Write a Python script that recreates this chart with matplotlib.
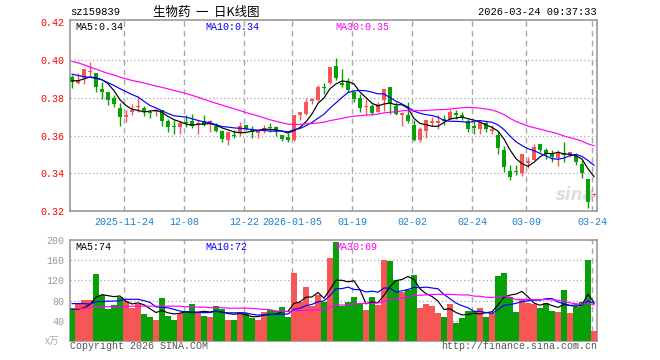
import numpy as np
import pandas as pd
import matplotlib
matplotlib.use('Agg')
import matplotlib.pyplot as plt

# daily candles, 2025-11-11 .. 2026-03-24 (index 0..87)
opens = [0.3910, 0.3878, 0.3903, 0.3935, 0.3931, 0.3846, 0.3828, 0.3800, 0.3747, 0.3699,
         0.3722, 0.3749, 0.3747, 0.3726, 0.3726, 0.3735, 0.3676, 0.3650, 0.3646, 0.3673,
         0.3676, 0.3660, 0.3676, 0.3664, 0.3651, 0.3623, 0.3575, 0.3605, 0.3614, 0.3655,
         0.3628, 0.3611, 0.3628, 0.3646, 0.3646, 0.3605, 0.3593, 0.3575, 0.3708, 0.3712,
         0.3782, 0.3788, 0.3858, 0.3876, 0.3968, 0.3876, 0.3885, 0.3832, 0.3800, 0.3749,
         0.3756, 0.3726, 0.3788, 0.3857, 0.3758, 0.3708, 0.3708, 0.3655, 0.3575, 0.3623,
         0.3667, 0.3667, 0.3687, 0.3687, 0.3717, 0.3708, 0.3676, 0.3650, 0.3634, 0.3664,
         0.3625, 0.3602, 0.3522, 0.3411, 0.3412, 0.3399, 0.3456, 0.3470, 0.3553, 0.3523,
         0.3500, 0.3482, 0.3505, 0.3496, 0.3493, 0.3449, 0.3368, 0.3283]
highs = [0.3920, 0.3929, 0.3952, 0.3991, 0.3931, 0.3881, 0.3828, 0.3814, 0.3770, 0.3735,
         0.3765, 0.3811, 0.3758, 0.3735, 0.3743, 0.3735, 0.3690, 0.3681, 0.3676, 0.3708,
         0.3712, 0.3681, 0.3708, 0.3681, 0.3664, 0.3628, 0.3616, 0.3628, 0.3673, 0.3655,
         0.3651, 0.3637, 0.3655, 0.3664, 0.3651, 0.3605, 0.3614, 0.3708, 0.3722, 0.3800,
         0.3800, 0.3867, 0.3876, 0.3965, 0.4009, 0.3952, 0.3903, 0.3835, 0.3818, 0.3796,
         0.3765, 0.3779, 0.3846, 0.3857, 0.3779, 0.3726, 0.3779, 0.3681, 0.3646, 0.3680,
         0.3699, 0.3708, 0.3708, 0.3743, 0.3735, 0.3722, 0.3690, 0.3676, 0.3681, 0.3676,
         0.3655, 0.3623, 0.3545, 0.3442, 0.3444, 0.3500, 0.3487, 0.3553, 0.3553, 0.3535,
         0.3523, 0.3523, 0.3564, 0.3514, 0.3505, 0.3470, 0.3368, 0.3296]
lows = [0.3853, 0.3871, 0.3871, 0.3917, 0.3832, 0.3796, 0.3761, 0.3752, 0.3651, 0.3673,
        0.3708, 0.3722, 0.3703, 0.3694, 0.3704, 0.3651, 0.3620, 0.3607, 0.3607, 0.3646,
        0.3641, 0.3607, 0.3651, 0.3616, 0.3616, 0.3563, 0.3549, 0.3588, 0.3598, 0.3628,
        0.3588, 0.3588, 0.3611, 0.3616, 0.3598, 0.3570, 0.3566, 0.3570, 0.3681, 0.3708,
        0.3765, 0.3782, 0.3818, 0.3871, 0.3894, 0.3858, 0.3832, 0.3775, 0.3722, 0.3708,
        0.3708, 0.3726, 0.3731, 0.3712, 0.3708, 0.3651, 0.3664, 0.3570, 0.3568, 0.3588,
        0.3651, 0.3634, 0.3655, 0.3687, 0.3690, 0.3681, 0.3620, 0.3607, 0.3607, 0.3620,
        0.3607, 0.3504, 0.3404, 0.3363, 0.3391, 0.3387, 0.3426, 0.3470, 0.3514, 0.3475,
        0.3458, 0.3440, 0.3461, 0.3487, 0.3443, 0.3373, 0.3214, 0.3280]
closes = [0.3885, 0.3892, 0.3952, 0.3943, 0.3858, 0.3832, 0.3788, 0.3768, 0.3699, 0.3708,
          0.3733, 0.3756, 0.3729, 0.3720, 0.3731, 0.3678, 0.3646, 0.3644, 0.3667, 0.3667,
          0.3650, 0.3667, 0.3655, 0.3676, 0.3625, 0.3579, 0.3616, 0.3600, 0.3651, 0.3634,
          0.3616, 0.3628, 0.3642, 0.3641, 0.3623, 0.3584, 0.3575, 0.3708, 0.3722, 0.3775,
          0.3791, 0.3855, 0.3853, 0.3965, 0.3903, 0.3867, 0.3841, 0.3791, 0.3747, 0.3758,
          0.3717, 0.3768, 0.3846, 0.3770, 0.3713, 0.3717, 0.3678, 0.3575, 0.3637, 0.3680,
          0.3676, 0.3676, 0.3678, 0.3726, 0.3708, 0.3699, 0.3634, 0.3641, 0.3673, 0.3634,
          0.3634, 0.3534, 0.3434, 0.3381, 0.3405, 0.3500, 0.3465, 0.3541, 0.3523, 0.3500,
          0.3488, 0.3505, 0.3496, 0.3514, 0.3461, 0.3399, 0.3249, 0.3290]
# volume, x10k
volumes = [65, 73, 81, 81, 133, 91, 63, 71, 88, 79,
           66, 73, 53, 48, 42, 86, 50, 42, 55, 59,
           73, 57, 50, 48, 69, 63, 42, 42, 57, 55,
           45, 42, 57, 62, 60, 68, 47, 135, 78, 106,
           70, 92, 77, 165, 197, 70, 77, 88, 73, 61,
           87, 71, 161, 158, 121, 98, 101, 131, 66, 73,
           70, 55, 48, 73, 36, 46, 60, 60, 66, 48,
           55, 129, 135, 88, 58, 81, 76, 73, 66, 76,
           60, 58, 101, 56, 68, 77, 161, 20]

# moving-average values before a full window is available
ma5_head = [0.3890, 0.3890, 0.3900, 0.3910]
ma10_head = [0.3925, 0.3918, 0.3912, 0.3908, 0.3903, 0.3895, 0.3880, 0.3865, 0.3848]
ma30_head = [0.3993, 0.3985, 0.3975, 0.3962, 0.3952, 0.3940, 0.3929, 0.3920, 0.3910, 0.3900,
             0.3892, 0.3885, 0.3878, 0.3870, 0.3862, 0.3855, 0.3847, 0.3839, 0.3831, 0.3823,
             0.3813, 0.3803, 0.3792, 0.3781, 0.3771, 0.3761, 0.3751, 0.3742, 0.3732]
vma5_head = [63, 63, 66, 72]
vma10_head = [74, 74, 74, 73, 78, 78, 79, 79, 80]
vma30_head = [64, 64, 65, 66, 68, 68, 68, 68, 68, 68,
              69, 69, 69, 69, 69, 69, 69, 69, 69, 68,
              68, 67, 67, 66, 66, 66, 65, 65, 65]

date_idx = [9, 19, 29, 37, 47, 57, 67, 76, 87]
date_labels = ['2025-11-24', '12-08', '12-22', '2026-01-05', '01-19', '02-02', '02-24', '03-09', '03-24']
price_ticks = [0.32, 0.34, 0.36, 0.38, 0.40, 0.42]
vol_ticks = [40, 80, 120, 160, 200]

RED = '#f75656'
GREEN = '#07a007'
GRID = '#a8a8a8'
MONO = 'Liberation Mono'
CJK = ['Noto Sans CJK SC', 'DejaVu Sans']


def moving(values, n, head):
    ma = pd.Series(values, dtype=float).rolling(n).mean().to_numpy()
    ma[:len(head)] = head
    return ma


x = np.arange(len(closes))
o = np.array(opens)
c = np.array(closes)
up = c >= o
colors = [RED if u else GREEN for u in up]

fig = plt.figure(figsize=(6.6, 3.6), dpi=100)
W, H = 660.0, 360.0
ax = fig.add_axes([70 / W, 1 - 211 / H, 527 / W, 191 / H])
axv = fig.add_axes([70 / W, 1 - 341 / H, 527 / W, 101 / H])

# ---- price panel
ax.vlines(x, lows, highs, colors=colors, linewidth=1, zorder=3)
body = np.maximum(np.abs(c - o), 0.0004)
ax.bar(x, body, bottom=np.minimum(o, c), width=0.72, color=colors, linewidth=0, zorder=4)

ax.plot(x, moving(closes, 5, ma5_head), color='black', lw=0.85, zorder=5)
ax.plot(x, moving(closes, 10, ma10_head), color='#0000ff', lw=0.85, zorder=5)
ax.plot(x, moving(closes, 30, ma30_head), color='#ff00ff', lw=0.85, zorder=5)

ax.set_xlim(-0.33, 87.5)
ax.set_ylim(0.32, 0.4212)
for p in price_ticks[1:-1]:
    ax.axhline(p, color=GRID, lw=0.9, ls=(0, (1, 2)), zorder=1)
ax.set_yticks(price_ticks)
ax.set_yticklabels(['%.2f' % p for p in price_ticks], color='#ff0000', fontsize=7.2, family=MONO)
ax.set_xticks([d - 0.33 for d in date_idx])
ax.set_xticklabels(date_labels, color='#1a80d6', fontsize=7.2, family=MONO)

# faint logo watermark
ax.text(0.995, 0.035, 'sina', transform=ax.transAxes, ha='right', va='bottom', fontsize=12,
        style='italic', weight='bold', color='#dedede', zorder=0)

ax.text(5 / 527, 1 - 7 / 191, 'MA5:0.34', transform=ax.transAxes, color='black',
        fontsize=7.2, family=MONO, va='center')
ax.text(135 / 527, 1 - 7 / 191, 'MA10:0.34', transform=ax.transAxes, color='#0000ff',
        fontsize=7.2, family=MONO, va='center')
ax.text(265 / 527, 1 - 7 / 191, 'MA30:0.35', transform=ax.transAxes, color='#ff00ff',
        fontsize=7.2, family=MONO, va='center')

# ---- volume panel
axv.bar(x, volumes, width=0.9, color=colors, linewidth=0, zorder=3)
axv.plot(x, moving(volumes, 5, vma5_head), color='black', lw=0.85, zorder=5)
axv.plot(x, moving(volumes, 10, vma10_head), color='#0000ff', lw=0.85, zorder=5)
axv.plot(x, moving(volumes, 30, vma30_head), color='#ff00ff', lw=0.85, zorder=5)
axv.set_xlim(-0.33, 87.5)
axv.set_ylim(0, 200)
for v in vol_ticks[:-1]:
    axv.axhline(v, color=GRID, lw=0.9, ls=(0, (1, 2)), zorder=1)
axv.set_yticks(vol_ticks)
axv.set_yticklabels([str(v) for v in vol_ticks], color='#999999', fontsize=7.2, family=MONO)
axv.set_xticks([])
axv.text(-0.033, 0, 'x万', transform=axv.transAxes, ha='center', va='center',
         color='#aaaaaa', fontsize=7, family=CJK)
axv.text(5 / 527, 1 - 7 / 101, 'MA5:74', transform=axv.transAxes, color='black',
         fontsize=7.2, family=MONO, va='center')
axv.text(135 / 527, 1 - 7 / 101, 'MA10:72', transform=axv.transAxes, color='#0000ff',
         fontsize=7.2, family=MONO, va='center')
axv.text(265 / 527, 1 - 7 / 101, 'MA30:69', transform=axv.transAxes, color='#ff00ff',
         fontsize=7.2, family=MONO, va='center')

for a in (ax, axv):
    for d in date_idx:
        a.axvline(d - 0.33, color=GRID, lw=1, ls=(0, (4, 3)), zorder=1)
    for s in a.spines.values():
        s.set_color('#999999')
        s.set_linewidth(1.2)
    a.tick_params(length=0, pad=4)

# header / footer
fig.text(70 / W, 1 - 12 / H, 'sz159839', fontsize=7.5, family=MONO, va='center')
fig.text(206 / W, 1 - 12 / H, '生物药  一  日K线图', fontsize=9, family=CJK,
         ha='center', va='center')
fig.text(597 / W, 1 - 12 / H, '2026-03-24 09:37:33', fontsize=7.5, family=MONO,
         ha='right', va='center')
fig.text(70 / W, 1 - 346 / H, 'Copyright 2026 SINA.COM', fontsize=7.2, family=MONO,
         color='#555555', va='center')
fig.text(597 / W, 1 - 346 / H, 'http://finance.sina.com.cn', fontsize=7.2, family=MONO,
         color='#555555', ha='right', va='center')

fig.savefig('out.png', dpi=100, facecolor='white')
